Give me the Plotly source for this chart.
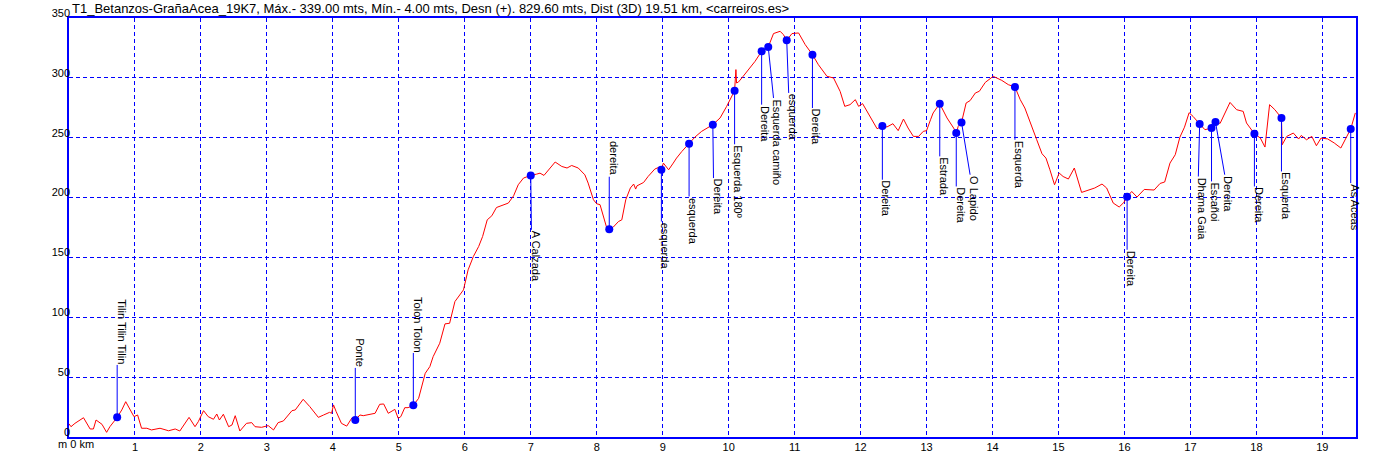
import plotly.graph_objects as go

# ---- elevation profile (km, m) ----
dist_km = [0.00, 0.03, 0.09, 0.22, 0.32, 0.37, 0.41, 0.50, 0.57, 0.62, 0.73, 0.80, 0.86, 0.92, 0.985,
           1.04, 1.10, 1.18, 1.25, 1.38, 1.51, 1.61, 1.68, 1.82, 1.91, 1.96, 2.04, 2.11, 2.19, 2.24,
           2.28, 2.34, 2.42, 2.47, 2.52, 2.59, 2.69, 2.77, 2.82, 2.92, 3.02, 3.10, 3.17, 3.25, 3.38,
           3.43, 3.55, 3.65, 3.78, 3.86, 3.91, 3.95, 3.98, 4.01, 4.05, 4.13, 4.21, 4.29, 4.34, 4.41,
           4.46, 4.59, 4.64, 4.71, 4.77, 4.84, 4.89, 4.94, 4.99, 5.03, 5.09, 5.14, 5.22, 5.30, 5.40,
           5.47, 5.52, 5.62, 5.70, 5.77, 5.85, 5.93, 5.98, 6.05, 6.13, 6.21, 6.27, 6.34, 6.41, 6.48,
           6.58, 6.66, 6.74, 6.81, 6.89, 7.00, 7.09, 7.14, 7.20, 7.27, 7.37, 7.47, 7.55, 7.62, 7.72,
           7.82, 7.87, 7.95, 8.00, 8.05, 8.11, 8.16, 8.19, 8.25, 8.33, 8.38, 8.44, 8.51, 8.56, 8.59,
           8.61, 8.71, 8.78, 8.88, 8.95, 8.98, 9.01, 9.09, 9.16, 9.21, 9.29, 9.40, 9.49, 9.59, 9.76,
           9.87, 9.97, 10.09, 10.11, 10.12, 10.15, 10.22, 10.32, 10.40, 10.50, 10.60, 10.68, 10.78,
           10.83, 10.88, 10.96, 11.06, 11.16, 11.27, 11.36, 11.49, 11.59, 11.69, 11.76, 11.84, 11.92,
           11.97, 12.03, 12.14, 12.25, 12.33, 12.40, 12.49, 12.57, 12.65, 12.72, 12.80, 12.88, 12.95,
           13.00, 13.06, 13.10, 13.20, 13.31, 13.41, 13.45, 13.48, 13.53, 13.60, 13.66, 13.74, 13.80,
           13.89, 14.01, 14.14, 14.24, 14.34, 14.42, 14.49, 14.60, 14.67, 14.75, 14.81, 14.87, 14.94,
           15.01, 15.07, 15.15, 15.24, 15.35, 15.48, 15.55, 15.66, 15.73, 15.83, 15.92, 15.99, 16.04,
           16.11, 16.19, 16.30, 16.38, 16.45, 16.54, 16.61, 16.69, 16.77, 16.84, 16.91, 16.98, 17.04,
           17.14, 17.22, 17.32, 17.38, 17.45, 17.60, 17.70, 17.80, 17.85, 17.97, 18.06, 18.13, 18.20,
           18.28, 18.38, 18.39, 18.46, 18.56, 18.64, 18.68, 18.76, 18.84, 18.91, 18.98, 19.08, 19.18,
           19.28, 19.35, 19.43, 19.50]
elev_m = [11, 8.6, 11.4, 16.1, 6.7, 6.7, 14.2, 10.6, 3.9, 8.6, 16.4, 22.6, 29.5, 24, 17,
          18.4, 7.3, 7.3, 5.9, 7.3, 5.2, 6.7, 5.0, 16.4, 8.6, 12.8, 22.0, 17, 14.8, 19.2,
          14.2, 19, 8.6, 10, 17.8, 5, 11.4, 12, 8.6, 8.1, 9.5, 5.9, 12, 13.4, 22,
          22.6, 31.5, 25.4, 16.4, 18.4, 19.8, 20.6, 19.8, 26.8, 21.2, 11.4, 9.1, 16.1, 14.2, 18.4,
          17.8, 19.2, 19.8, 27.3, 27.6, 19.8, 21.7, 23.1, 15.6, 17, 24.5, 24.5, 26.5, 32.3, 53.2,
          58.8, 67.1, 78.3, 94.5, 95, 113.1, 118.7, 122.9, 139.6, 150.8, 159.1, 167.5, 181.4, 184.8, 191.7,
          194, 195.4, 201.5, 210.7, 216.3, 218.5, 219.6, 220.4, 218.5, 223.2, 229.7, 226, 224.7, 226.8, 224.7,
          219, 212.1, 198.2, 194.8, 194.1, 181.4, 173.1, 173.6, 175.3, 180, 181.4, 198.2, 208, 211.3, 207.1,
          209.8, 212.6, 217.7, 223.8, 225.5, 223.2, 228.8, 223.2, 228.8, 233, 238.5, 245, 250.6, 255.3, 260.9,
          266.5, 276.2, 289.3, 306.9, 295.7, 296.6, 301.3, 308.3, 313.8, 322.2, 325.8, 337, 338.9,
          336.1, 331.4, 337, 337.5, 327.8, 319.4, 311, 301.3, 299.9, 288.7, 276.2, 277.6, 281.8,
          276.2, 278.5, 268, 257.5, 259.8, 259, 261.7, 255.9, 265.6, 258.1, 251.1, 251.1, 255.3,
          255.9, 265, 270.7, 278.4, 266.5, 258.1, 253.9, 259.5, 262.8, 279, 281, 287.4, 288.8,
          296.2, 301.3, 297.9, 294.3, 292.4, 281.8, 274.8, 259.5, 248.3, 236.6, 233, 223.2, 210.7,
          220.5, 217.6, 215.5, 224.7, 204.3, 206.5, 208, 211.3, 208, 195.4, 192.1, 195.9, 200.6,
          205.1, 200.4, 206.8, 206.3, 206.3, 211.8, 213, 228.8, 235.8, 250.4, 258.8, 270.9, 267.8,
          261.5, 256.7, 258.1, 263.1, 262, 279.5, 273.4, 272, 262.3, 253.3, 249.7, 242.2, 277.6,
          273.4, 266.5, 244.1, 251.1, 253.9, 248.9, 251.9, 248.3, 251.1, 243.3, 249.7, 249, 245.6,
          241.4, 248.3, 257.3, 270.7]

# ---- waypoints ----
wp_names = ["Tilin Tilin Tilin", "Ponte", "Tolon Tolon", "A Calzada", "dereita", "esquerda",
            "esquerda", "Dereita", "Esquerda 180º", "Dereita", "Esquerda camiño", "esquerda",
            "Dereita", "Dereita", "Estrada", "Dereita", "O Lapido", "Esquerda", "Dereita",
            "Dhama Gaia", "Escañoi", "Dereita", "Dereita", "Esquerda", "As Aceas"]
wp_km = [0.73, 4.34, 5.22, 7.00, 8.19, 8.98, 9.40, 9.76, 10.09, 10.50, 10.60, 10.88,
         11.27, 12.33, 13.20, 13.45, 13.53, 14.34, 16.04, 17.14, 17.32, 17.38, 17.97, 18.38, 19.43]
wp_elev = [16.4, 14.2, 26.5, 218.5, 173.6, 223.2, 245, 260.9, 289.3, 322.2, 325.8, 331.4,
           319.4, 259.8, 278.4, 253.9, 262.8, 292.4, 200.6, 261.5, 258.1, 263.1, 253.3, 266.5, 257.3]
# where each label's leader line ends (km, m)
lead_km = [0.73, 4.34, 5.22, 7.01, 8.19, 8.98, 9.40, 9.77, 10.09, 10.50, 10.68, 10.91,
           11.27, 12.33, 13.20, 13.45, 13.66, 14.34, 16.04, 17.12, 17.32, 17.52, 17.97, 18.38, 19.43]
lead_elev = [60.2, 57.7, 70.2, 173.1, 217.4, 180, 200.9, 216.3, 244.5, 277.6, 283.2, 287.4,
             274.8, 214.9, 234.4, 209.3, 219.1, 248.3, 156.4, 217.6, 213.5, 219.1, 209.3, 221.8, 212.1]

x_ticks = list(range(1, 20))
y_ticks = list(range(0, 351, 50))

title_text = ("T1_Betanzos-GrañaAcea_19K7, Máx.- 339.00 mts, Mín.- 4.00 mts, "
              "Desn (+). 829.60 mts, Dist (3D) 19.51 km, <carreiros.es>")

BLUE = "#0000FF"
FONT = "Liberation Sans, Arial, sans-serif"

fig = go.Figure()

fig.add_trace(go.Scatter(x=dist_km, y=elev_m, mode="lines",
                         line=dict(color="#FF0000", width=1), hoverinfo="skip"))

lx, ly = [], []
for k, e, k2, e2 in zip(wp_km, wp_elev, lead_km, lead_elev):
    lx += [k, k2, None]
    ly += [e, e2, None]
fig.add_trace(go.Scatter(x=lx, y=ly, mode="lines",
                         line=dict(color=BLUE, width=1), hoverinfo="skip"))
fig.add_trace(go.Scatter(x=wp_km, y=wp_elev, mode="markers",
                         marker=dict(color=BLUE, size=8), text=wp_names))

for name, k, e, k2, e2 in zip(wp_names, wp_km, wp_elev, lead_km, lead_elev):
    above = e2 > e
    fig.add_annotation(x=k2, y=e2, text=name, showarrow=False, textangle=90,
                       xanchor="left", yanchor="bottom" if above else "top",
                       xshift=-3, font=dict(family=FONT, size=11, color="black"),
                       borderpad=0)

fig.add_annotation(xref="paper", yref="paper", x=0, y=1, xanchor="left", yanchor="bottom",
                   xshift=2, yshift=1, text=title_text, showarrow=False,
                   font=dict(family=FONT, size=13, color="black"), borderpad=0)
fig.add_annotation(xref="x", yref="paper", x=0, y=0, xanchor="left", yanchor="top",
                   xshift=-12, yshift=0, text="m 0 km", showarrow=False,
                   font=dict(family=FONT, size=11, color="black"), borderpad=0)

fig.update_layout(
    width=1390, height=459,
    margin=dict(l=69, r=34, t=18, b=22, autoexpand=False),
    paper_bgcolor="white", plot_bgcolor="white",
    showlegend=False,
    font=dict(family=FONT, size=11, color="black"),
)
fig.update_xaxes(range=[0, 19.51], tickvals=x_ticks, ticktext=[str(t) for t in x_ticks],
                 showgrid=True, gridcolor=BLUE, gridwidth=1, griddash="4px,3px",
                 showline=True, linecolor=BLUE, linewidth=1.5, mirror=True, automargin=False,
                 zeroline=False, ticks="", ticklabelstandoff=-1, tickfont=dict(size=11))
fig.update_yaxes(range=[0, 350], tickvals=y_ticks, ticktext=[str(t) for t in y_ticks],
                 showgrid=True, gridcolor=BLUE, gridwidth=1, griddash="4px,3px",
                 showline=True, linecolor=BLUE, linewidth=1.5, mirror=True, automargin=False,
                 zeroline=False, ticks="", ticklabelshift=-5, ticklabelstandoff=-5,
                 tickfont=dict(size=11))

# remove the default page margin so the figure fills the browser window
fig.write_html("out.html", config={"displayModeBar": False},
               post_script="document.body.style.margin='0';document.body.style.overflow='hidden';")
